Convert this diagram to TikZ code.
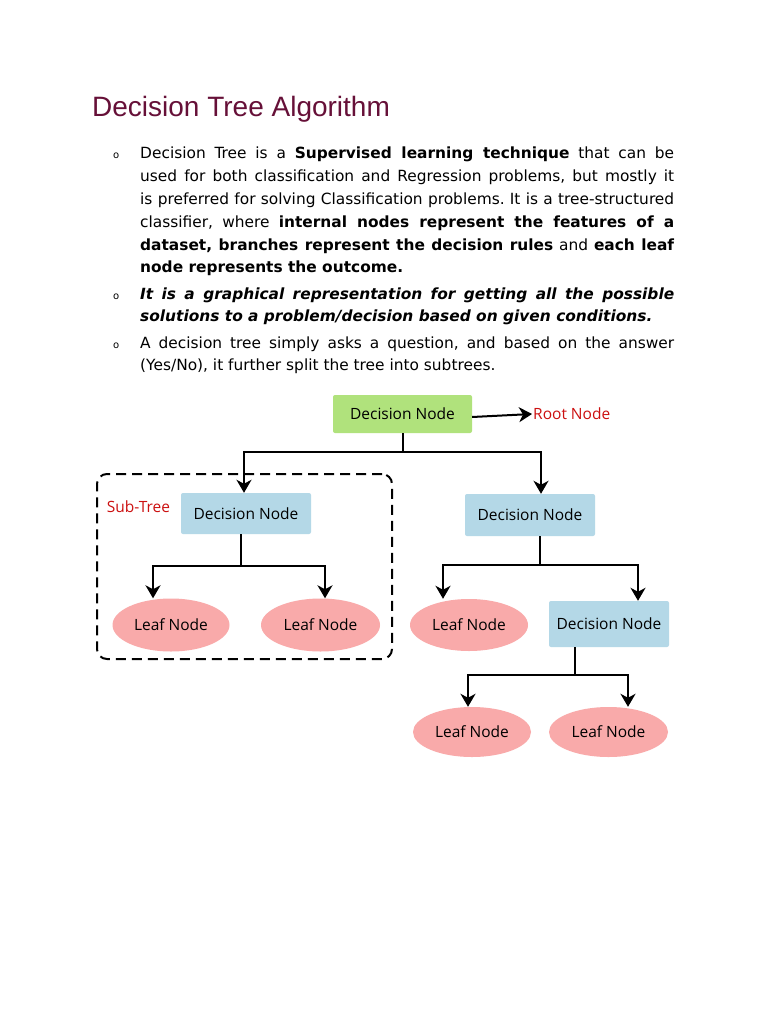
\documentclass[tikz,border=0pt]{standalone}
\usepackage{fontspec}
\setmainfont{DejaVu Sans}
\newfontfamily\titlefont{Liberation Sans}
\newfontfamily\boxfont{Open Sans}
\usetikzlibrary{arrows.meta,positioning,shapes.geometric}
\definecolor{titlecol}{RGB}{102,16,56}
\definecolor{greenbox}{RGB}{176,226,124}
\definecolor{bluebox}{RGB}{180,216,231}
\definecolor{pinkleaf}{RGB}{249,170,170}
\definecolor{redtext}{RGB}{204,16,16}
\frenchspacing
\tikzset{
  para/.style={
    anchor=base west,
    text width=534pt,
    align=justify,
    inner sep=0pt,
    font=\fontsize{15.4}{22.8}\selectfont
  },
  bullet/.style={anchor=base west, inner sep=0pt, font=\fontsize{10}{12}\selectfont},
  decbox/.style={
    rectangle,
    rounded corners=2pt,
    inner sep=0pt,
    font=\boxfont\fontsize{15.5}{18}\selectfont
  },
  leaf/.style={
    ellipse,
    fill=pinkleaf,
    inner sep=0pt,
    font=\boxfont\fontsize{15.5}{18}\selectfont
  },
  tag/.style={text=redtext, inner sep=1pt, font=\boxfont\fontsize{15.5}{18}\selectfont},
  link/.style={line width=2pt},
  line/.style={-{Stealth[length=13pt,width=15pt,inset=4pt]}, line width=2pt}
}

\begin{document}
\begin{tikzpicture}[x=1pt,y=-1pt]
  \fill[white] (0,0) rectangle (768,1024);
  \useasboundingbox (0,0) rectangle (768,1024);

  % heading and bullet text
  \node[anchor=base west, inner sep=0pt, text=titlecol, font=\titlefont\fontsize{28}{32}\selectfont] (title) at (92,117) {Decision Tree Algorithm};

  \node[bullet] (b1) at (113,159) {o};
  \node[para] (p1) at (140,159) {Decision Tree is a \textbf{Supervised learning technique} that can be\linebreak
    used for both classification and Regression problems, but mostly it\linebreak
    is preferred for solving Classification problems. It is a tree-structured\linebreak
    classifier, where \textbf{internal nodes represent the features of a\linebreak
    dataset, branches represent the decision rules} and \textbf{each leaf\linebreak
    node represents the outcome.}};
  \node[bullet] (b2) at (113,299) {o};
  \node[para] (p2) at (140,299) {\textbf{\textit{It is a graphical representation for getting all the possible\linebreak
    solutions to a problem/decision based on given conditions.}}};
  \node[bullet] (b3) at (113,348) {o};
  \node[para] (p3) at (140,348) {A decision tree simply asks a question, and based on the answer\linebreak
    (Yes/No), it further split the tree into subtrees.};

  % tree
  \node[decbox, fill=greenbox, minimum width=139pt, minimum height=38pt] (r) at (402.5,414) {Decision Node};
  \node[tag, anchor=west] (rl) at (532,414) {Root Node};

  \node[draw, dashed, dash pattern=on 10pt off 6pt, line width=2pt, rounded corners=10pt,
        minimum width=295pt, minimum height=185pt] (s) at (244.5,566.5) {};
  \node[tag] (sl) at (138.5,507) {Sub-Tree};

  \node[decbox, fill=bluebox, minimum width=130pt, minimum height=41pt] (d1) at (246,513.5) {Decision Node};
  \node[decbox, fill=bluebox, minimum width=130pt, minimum height=42pt] (d2) at (530,515) {Decision Node};
  \node[decbox, fill=bluebox, minimum width=120pt, minimum height=46pt] (d3) at (609,624) {Decision Node};

  \node[leaf, minimum width=117pt, minimum height=53pt] (l1) at (171,625) {Leaf Node};
  \node[leaf, minimum width=119pt, minimum height=53pt] (l2) at (320.5,625) {Leaf Node};
  \node[leaf, minimum width=118pt, minimum height=52pt] (l3) at (469,625) {Leaf Node};
  \node[leaf, minimum width=118pt, minimum height=50pt] (l4) at (472,732) {Leaf Node};
  \node[leaf, minimum width=119pt, minimum height=50pt] (l5) at (608.5,732) {Leaf Node};

  \coordinate (j0) at (402.5,452);
  \coordinate (j1) at (241,566);
  \coordinate (j2) at (540,565);
  \coordinate (j3) at (575,675);

  \draw[line] ([yshift=-3pt]r.east) -- (rl.west);
  \draw[link] (r.south) -- (j0);
  \draw[line] (j0) -| ([xshift=-2pt]d1.north);
  \draw[line] (j0) -| ([xshift=11pt]d2.north);
  \draw[link] ([xshift=-5pt]d1.south) -- (j1);
  \draw[line] (j1) -| ([xshift=-18pt]l1.north);
  \draw[line] (j1) -| ([xshift=4.5pt]l2.north);
  \draw[link] ([xshift=10pt]d2.south) -- (j2);
  \draw[line] (j2) -| ([xshift=-26pt]l3.north);
  \draw[line] (j2) -| ([xshift=29pt]d3.north);
  \draw[link] ([xshift=-34pt]d3.south) -- (j3);
  \draw[line] (j3) -| ([xshift=-4pt]l4.north);
  \draw[line] (j3) -| ([xshift=19.5pt]l5.north);
\end{tikzpicture}
\end{document}
